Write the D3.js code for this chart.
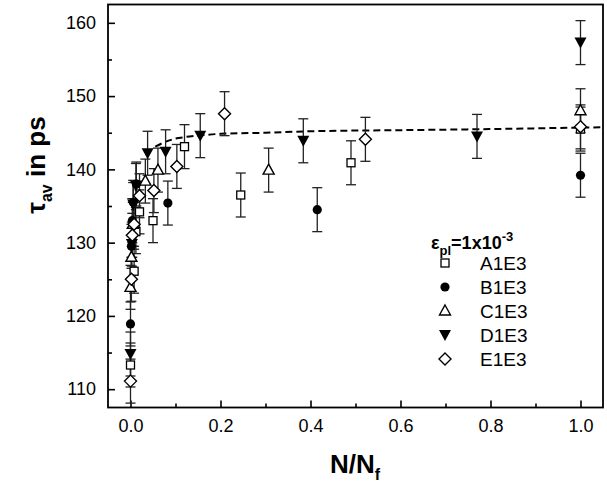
<!DOCTYPE html>
<html>
<head>
<meta charset="utf-8">
<script src="https://cdn.jsdelivr.net/npm/d3@7"></script>
<style>
  body { margin: 0; background: #fff; }
  text { font-family: Arial, "Liberation Sans", sans-serif; }
</style>
</head>
<body>
<div id="chart"></div>
<script>
// N/Nf and tau_av (ps) for each sample
const aN   = [0, 0.008, 0.012, 0.02, 0.05, 0.12, 0.245, 0.49, 1.0];
const aTau = [113.3, 126.1, 131.5, 134.2, 133.0, 143.1, 136.5, 140.9, 145.5];
const bN   = [0, 0.002, 0.004, 0.006, 0.013, 0.083, 0.415, 1.0];
const bTau = [118.9, 129.5, 133.0, 135.5, 138.0, 135.4, 134.5, 139.2];
const cN   = [0, 0.002, 0.005, 0.033, 0.061, 0.307, 1.0];
const cTau = [123.9, 128.0, 132.5, 138.4, 139.9, 139.9, 148.0];
const dN   = [0, 0.003, 0.006, 0.012, 0.038, 0.078, 0.155, 0.384, 0.77, 1.0];
const dTau = [114.8, 129.8, 135.2, 137.8, 142.2, 142.4, 144.6, 143.9, 144.5, 157.3];
const eN   = [0, 0.002, 0.004, 0.008, 0.02, 0.052, 0.103, 0.209, 0.522, 1.0];
const eTau = [111.1, 125.0, 131.0, 132.5, 136.4, 137.1, 140.4, 147.6, 144.1, 145.8];
const errBar = 3;   // +/- ps on every point

// dashed fit curve
const fitN   = [0.055, 0.068, 0.1, 0.12, 0.15, 0.2, 0.3, 0.4, 0.6, 0.8, 1.0, 1.05];
const fitTau = [143.1, 143.5, 144.2, 144.4, 144.6, 144.85, 145.0, 145.2, 145.35, 145.5, 145.7, 145.75];

const xTicks = [0, 0.2, 0.4, 0.6, 0.8, 1.0];
const xMinor = [0.1, 0.3, 0.5, 0.7, 0.9];
const yTicks = [110, 120, 130, 140, 150, 160];
const yMinor = [115, 125, 135, 145, 155];

const seriesNames = ["A1E3", "B1E3", "C1E3", "D1E3", "E1E3"];

function chart() {
    const margin = { top: 4.5, left: 108 },
        width = 495,
        height = 403;

    const svg = d3.select("#chart")
        .append("svg")
        .attr("width", 607)
        .attr("height", 493);

    const g = svg.append("g")
        .attr("transform", `translate(${margin.left},${margin.top})`);

    const x = d3.scaleLinear().domain([-0.05, 1.05]).range([0, width]);
    const y = d3.scaleLinear().domain([107.5, 162.5]).range([height, 0]);

    // ticks point inward
    g.append("g").attr("transform", `translate(0,${height})`)
        .call(d3.axisBottom(x).tickValues(xTicks).tickSize(-7).tickPadding(12)
            .tickFormat(d3.format(".1f")));
    g.append("g").attr("transform", `translate(0,${height})`)
        .call(d3.axisBottom(x).tickValues(xMinor).tickSize(-4).tickFormat(""));
    g.append("g")
        .call(d3.axisLeft(y).tickValues(yTicks).tickSize(-7).tickPadding(12));
    g.append("g")
        .call(d3.axisLeft(y).tickValues(yMinor).tickSize(-4).tickFormat(""));

    g.selectAll(".domain").remove();
    g.selectAll(".tick line").attr("stroke", "#000").attr("stroke-width", 1.6);
    g.selectAll(".tick text").attr("fill", "#000").style("font-size", "18px");

    // frame
    g.append("rect")
        .attr("width", width).attr("height", height)
        .attr("fill", "none").attr("stroke", "#000").attr("stroke-width", 1.8);

    // fit curve
    g.append("path")
        .datum(fitN.map((n, i) => [n, fitTau[i]]))
        .attr("fill", "none")
        .attr("stroke", "#000")
        .attr("stroke-width", 2)
        .attr("stroke-dasharray", "7,4")
        .attr("d", d3.line().curve(d3.curveMonotoneX).x(d => x(d[0])).y(d => y(d[1])));

    const series = [
        { n: aN, t: aTau, shape: "square" },
        { n: bN, t: bTau, shape: "circle" },
        { n: cN, t: cTau, shape: "up" },
        { n: dN, t: dTau, shape: "down" },
        { n: eN, t: eTau, shape: "diamond" }
    ];

    // error bars
    series.forEach(s => {
        const eb = g.append("g").attr("stroke", "#222").attr("stroke-width", 1.3);
        s.n.forEach((n, i) => {
            const cx = x(n), y1 = y(s.t[i] + errBar), y2 = y(s.t[i] - errBar);
            eb.append("line").attr("x1", cx).attr("x2", cx).attr("y1", y1).attr("y2", y2);
            eb.append("line").attr("x1", cx - 5).attr("x2", cx + 5).attr("y1", y1).attr("y2", y1);
            eb.append("line").attr("x1", cx - 5).attr("x2", cx + 5).attr("y1", y2).attr("y2", y2);
        });
    });

    // markers
    series.forEach(s => {
        s.n.forEach((n, i) => drawMarker(g, s.shape, x(n), y(s.t[i])));
    });

    // axis titles
    const yt = svg.append("text")
        .attr("transform", "translate(45,165) rotate(-90)")
        .attr("text-anchor", "middle")
        .style("font-size", "26px").style("font-weight", "bold");
    yt.append("tspan").text("τ");
    yt.append("tspan").attr("dy", 7).style("font-size", "16px").text("av");
    yt.append("tspan").attr("dy", -7).text(" in ps");

    const xt = svg.append("text")
        .attr("x", 355).attr("y", 473)
        .attr("text-anchor", "middle")
        .style("font-size", "26px").style("font-weight", "bold");
    xt.append("tspan").text("N/N");
    xt.append("tspan").attr("dy", 7).style("font-size", "16px").text("f");

    // legend
    const lt = svg.append("text")
        .attr("x", 431).attr("y", 249)
        .style("font-size", "18px").style("font-weight", "bold");
    lt.append("tspan").text("ε");
    lt.append("tspan").attr("dy", 6).style("font-size", "13px").text("pl");
    lt.append("tspan").attr("dy", -6).text("=1x10");
    lt.append("tspan").attr("dy", -8).style("font-size", "13px").text("-3");

    const legY = d3.scalePoint().domain(seriesNames).range([263, 359]);
    seriesNames.forEach((name, i) => {
        drawMarker(svg, series[i].shape, 445, legY(name));
        svg.append("text")
            .attr("x", 480).attr("y", legY(name) + 7)
            .style("font-size", "19px")
            .text(name);
    });
}

function drawMarker(g, shape, cx, cy) {
    if (shape === "square") {
        g.append("rect").attr("x", cx - 4).attr("y", cy - 4).attr("width", 8).attr("height", 8)
            .attr("fill", "#fff").attr("stroke", "#000").attr("stroke-width", 1.3);
    } else if (shape === "circle") {
        g.append("circle").attr("cx", cx).attr("cy", cy).attr("r", 4.6).attr("fill", "#000");
    } else if (shape === "up") {
        g.append("path").attr("d", `M${cx},${cy - 6}L${cx + 5.5},${cy + 4}L${cx - 5.5},${cy + 4}Z`)
            .attr("fill", "#fff").attr("stroke", "#000").attr("stroke-width", 1.4);
    } else if (shape === "down") {
        g.append("path").attr("d", `M${cx - 6},${cy - 5}L${cx + 6},${cy - 5}L${cx},${cy + 6}Z`)
            .attr("fill", "#000");
    } else {
        g.append("path").attr("d", `M${cx},${cy - 6}L${cx + 6},${cy}L${cx},${cy + 6}L${cx - 6},${cy}Z`)
            .attr("fill", "#fff").attr("stroke", "#000").attr("stroke-width", 1.4);
    }
}

window.onload = chart;
</script>
</body>
</html>
